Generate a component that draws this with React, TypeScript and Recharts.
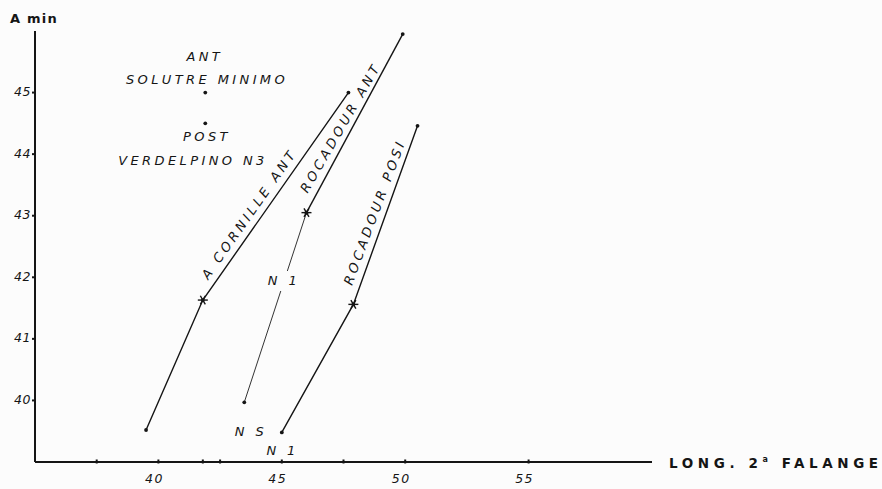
import { ScatterChart, Scatter, XAxis, YAxis, ReferenceDot } from "recharts";

// ticks
const xTicks = [37.5, 40, 41.8, 42.5, 45, 47.5, 50, 55];
const xTickLabels = [40, 45, 50, 55];
const yTicks = [40, 41, 42, 43, 44, 45];

// series (long. 2a falange, A min)
const aCornilleAnt = [
  { x: 39.5, y: 39.52 },
  { x: 41.8, y: 41.63 },
  { x: 47.7, y: 45.0 },
];
const rocadourAnt = [
  { x: 46.0, y: 43.05 },
  { x: 49.9, y: 45.95 },
];
const rocadourAntN1 = [
  { x: 43.48, y: 39.97 },
  { x: 46.0, y: 43.05 },
];
const rocadourPost = [
  { x: 45.0, y: 39.48 },
  { x: 47.9, y: 41.56 },
  { x: 50.5, y: 44.46 },
];
const solutreMinimoAnt = [{ x: 41.9, y: 45.0 }];
const verdelpinoPost = [{ x: 41.9, y: 44.5 }];
const crossPoints = [aCornilleAnt[1], rocadourAnt[0], rocadourPost[1]];

// annotations
const notes = [
  { text: "ANT", x: 41.88, y: 45.58, angle: 0 },
  { text: "SOLUTRE MINIMO", x: 41.97, y: 45.22, angle: 0 },
  { text: "POST", x: 41.97, y: 44.28, angle: 0 },
  { text: "VERDELPINO N3", x: 41.4, y: 43.9, angle: 0 },
  { text: "A CORNILLE ANT", x: 43.68, y: 43.03, angle: -55 },
  { text: "ROCADOUR ANT", x: 47.38, y: 44.43, angle: -60 },
  { text: "ROCADOUR POSI", x: 48.76, y: 43.06, angle: -69.6 },
  { text: "N 1", x: 45.09, y: 41.94, angle: 0, cover: true },
  { text: "N S", x: 43.75, y: 39.5, angle: 0 },
  { text: "N 1", x: 45.03, y: 39.18, angle: 0 },
];

const INK = "#151515";
const BG = "#fcfcfc";
const FONT = "'DejaVu Sans', sans-serif";

function Dot(props: any) {
  const { cx, cy } = props;
  if (cx == null || cy == null) return null;
  return <circle cx={cx} cy={cy} r={1.9} fill={INK} />;
}

function Cross(props: any) {
  const { cx, cy } = props;
  if (cx == null || cy == null) return null;
  return (
    <g stroke={INK} strokeWidth={1.4}>
      <line x1={cx - 5} y1={cy} x2={cx + 5} y2={cy} />
      <line x1={cx - 2.5} y1={cy - 4.3} x2={cx + 2.5} y2={cy + 4.3} />
      <line x1={cx - 2.5} y1={cy + 4.3} x2={cx + 2.5} y2={cy - 4.3} />
    </g>
  );
}

function XTick(props: any) {
  const { x, y, payload } = props;
  const v = payload.value;
  return (
    <g>
      <line x1={x} x2={x} y1={y - 2.5} y2={y + 1.5} stroke={INK} strokeWidth={2} />
      {xTickLabels.includes(v) && (
        <text x={x - 4} y={y + 21} textAnchor="middle" fontFamily={FONT} fontStyle="italic" fontSize={12.5} letterSpacing={1.5} fill={INK}>
          {v}
        </text>
      )}
    </g>
  );
}

function YTick(props: any) {
  const { x, y, payload } = props;
  return (
    <g>
      <line x1={x - 3} x2={x} y1={y} y2={y} stroke={INK} strokeWidth={2} />
      <text x={x - 4} y={y} dy={-1} textAnchor="end" dominantBaseline="central" fontFamily={FONT} fontStyle="italic" fontSize={12.5} letterSpacing={0.5} fill={INK}>
        {payload.value}
      </text>
    </g>
  );
}

function Note(props: any) {
  const { cx, cy, text, angle, cover } = props;
  if (cx == null || cy == null) return null;
  return (
    <g transform={`rotate(${angle} ${cx} ${cy})`}>
      {cover && <rect x={cx - 15} y={cy - 10} width={30} height={20} fill={BG} />}
      <text
        x={cx}
        y={cy}
        textAnchor="middle"
        dominantBaseline="central"
        fontFamily={FONT}
        fontStyle="italic"
        fontSize={13}
        letterSpacing={3.4}
        fill={INK}
      >
        {text}
      </text>
    </g>
  );
}

export default function App() {
  return (
    <div style={{ width: 882, height: 489, background: BG }}>
      <style>{`body{margin:0;background:${BG}}`}</style>
      <ScatterChart width={882} height={489} margin={{ top: 31, right: 230, left: 0, bottom: 0 }}>
        <XAxis
          type="number"
          dataKey="x"
          domain={[35, 60]}
          ticks={xTicks}
          interval={0}
          tick={<XTick />}
          tickLine={false}
          tickSize={0}
          tickMargin={0}
          height={27}
          axisLine={{ stroke: INK, strokeWidth: 2 }}
          allowDataOverflow
          label={{
            content: (p: any) => {
              const vb = p.viewBox || {};
              return (
                <text x={(vb.x ?? 35) + (vb.width ?? 617) + 17} y={(vb.y ?? 461) + 6} fontFamily={FONT} fontWeight={700} fontSize={13.5} letterSpacing={4.6} fill={INK}>
                  LONG.  2<tspan dy={-6} fontSize={8}>a</tspan>
                  <tspan dy={6}> FALANGE</tspan>
                </text>
              );
            },
          }}
        />
        <YAxis
          type="number"
          dataKey="y"
          domain={[39, 46]}
          ticks={yTicks}
          interval={0}
          tick={<YTick />}
          tickLine={false}
          tickSize={0}
          tickMargin={0}
          width={35}
          axisLine={{ stroke: INK, strokeWidth: 2 }}
          allowDataOverflow
          label={{
            content: () => (
              <text x={10} y={23} fontFamily={FONT} fontWeight={700} fontSize={13} letterSpacing={1.2} fill={INK}>
                A min
              </text>
            ),
          }}
        />
        <Scatter data={rocadourAntN1} line={{ stroke: "#333", strokeWidth: 1 }} lineType="joint" shape={<Dot />} isAnimationActive={false} />
        <Scatter data={aCornilleAnt} line={{ stroke: INK, strokeWidth: 1.4 }} lineType="joint" shape={<Dot />} isAnimationActive={false} />
        <Scatter data={rocadourAnt} line={{ stroke: INK, strokeWidth: 1.4 }} lineType="joint" shape={<Dot />} isAnimationActive={false} />
        <Scatter data={rocadourPost} line={{ stroke: INK, strokeWidth: 1.4 }} lineType="joint" shape={<Dot />} isAnimationActive={false} />
        <Scatter data={solutreMinimoAnt} shape={<Dot />} isAnimationActive={false} />
        <Scatter data={verdelpinoPost} shape={<Dot />} isAnimationActive={false} />
        {notes.map((n, i) => (
          <ReferenceDot
            key={i}
            x={n.x}
            y={n.y}
            r={0}
            ifOverflow="visible"
            shape={(p: any) => <Note {...p} text={n.text} angle={n.angle} cover={n.cover} />}
          />
        ))}
        <Scatter data={crossPoints} shape={<Cross />} isAnimationActive={false} />
      </ScatterChart>
    </div>
  );
}
